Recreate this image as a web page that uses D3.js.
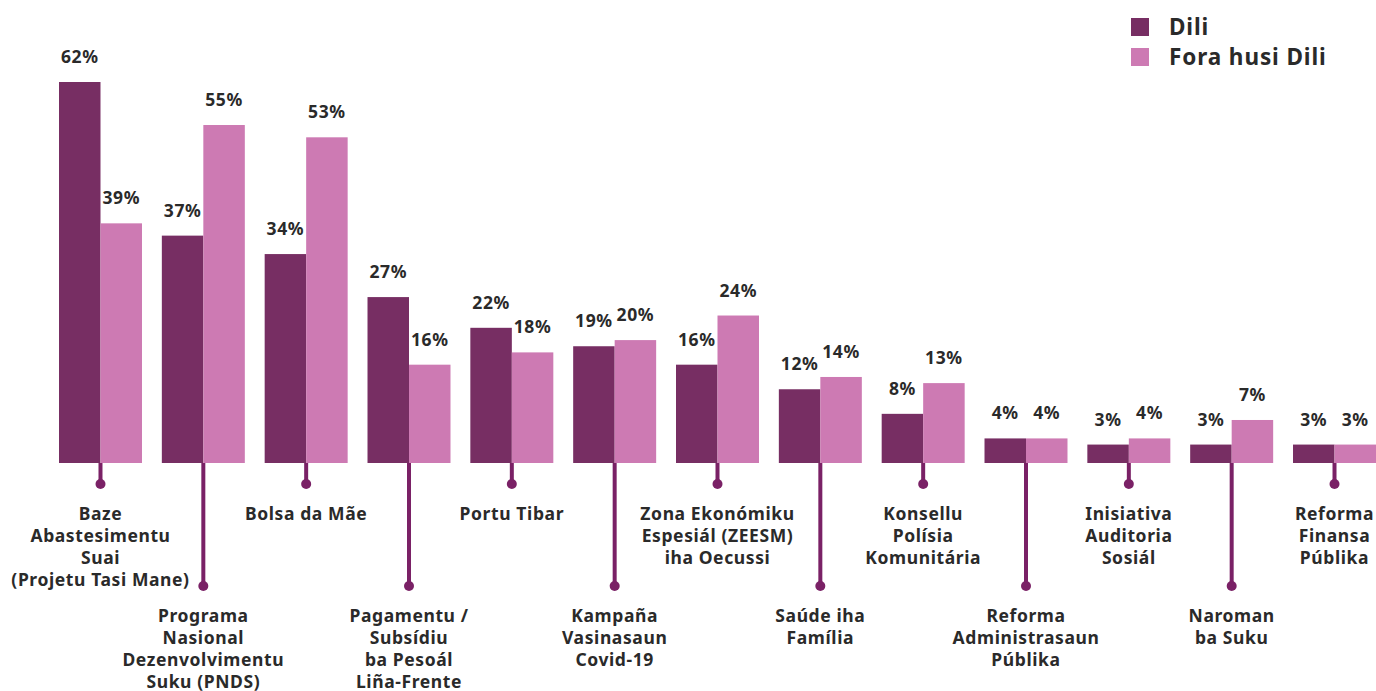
<!DOCTYPE html>
<html lang="en">
<head>
<meta charset="utf-8">
<title>Dili vs Fora husi Dili</title>
<script src="https://d3js.org/d3.v7.min.js"></script>
<style>
  body { margin: 0; background: #fff; }
  text { font-family: "Noto Sans", sans-serif; font-weight: 700; fill: #2a2a2a; }
</style>
</head>
<body>
<script>
var categories = [
  ["Baze", "Abastesimentu", "Suai", "(Projetu Tasi Mane)"],
  ["Programa", "Nasional", "Dezenvolvimentu", "Suku (PNDS)"],
  ["Bolsa da Mãe"],
  ["Pagamentu /", "Subsídiu", "ba Pesoál", "Liña-Frente"],
  ["Portu Tibar"],
  ["Kampaña", "Vasinasaun", "Covid-19"],
  ["Zona Ekonómiku", "Espesiál (ZEESM)", "iha Oecussi"],
  ["Saúde iha", "Família"],
  ["Konsellu", "Polísia", "Komunitária"],
  ["Reforma", "Administrasaun", "Públika"],
  ["Inisiativa", "Auditoria", "Sosiál"],
  ["Naroman", "ba Suku"],
  ["Reforma", "Finansa", "Públika"]
];
var dili = [62, 37, 34, 27, 22, 19, 16, 12, 8, 4, 3, 3, 3];
var foraDili = [39, 55, 53, 16, 18, 20, 24, 14, 13, 4, 4, 7, 3];
var seriesNames = ["Dili", "Fora husi Dili"];
var colors = ["#772e63", "#cd7ab3"];

var w = 1376, h = 691;
var base = 463;

var svg = d3.select("body").append("svg")
  .attr("width", w)
  .attr("height", h);

var idx = d3.range(categories.length);

var x = d3.scaleBand()
  .domain(idx)
  .range([59, 1376])
  .paddingInner(0.193)
  .paddingOuter(0);

var xIn = d3.scaleBand()
  .domain([0, 1])
  .range([0, x.bandwidth()]);

var y = d3.scaleLinear()
  .domain([0, 62])
  .range([base, 82]);

var groups = svg.selectAll("g.grp")
  .data(idx)
  .enter()
  .append("g")
  .attr("class", "grp")
  .attr("transform", function(i) { return "translate(" + x(i) + ",0)"; });

// stems + dots under each group
groups.append("line")
  .attr("x1", x.bandwidth() / 2)
  .attr("x2", x.bandwidth() / 2)
  .attr("y1", base)
  .attr("y2", function(i) { return i % 2 ? 586 : 484; })
  .attr("stroke", "#7a2166")
  .attr("stroke-width", 4);

groups.append("circle")
  .attr("cx", x.bandwidth() / 2)
  .attr("cy", function(i) { return i % 2 ? 586 : 484; })
  .attr("r", 5)
  .attr("fill", "#7a2166");

var bars = groups.selectAll("g.bar")
  .data(function(i) { return [dili[i], foraDili[i]]; })
  .enter()
  .append("g")
  .attr("class", "bar");

bars.append("rect")
  .attr("x", function(d, j) { return xIn(j); })
  .attr("y", function(d) { return y(d); })
  .attr("width", xIn.bandwidth())
  .attr("height", function(d) { return base - y(d); })
  .attr("fill", function(d, j) { return colors[j]; });

bars.append("text")
  .attr("x", function(d, j) { return xIn(j) + xIn.bandwidth() / 2; })
  .attr("y", function(d) { return y(d) - 19; })
  .attr("text-anchor", "middle")
  .style("font-size", "17.5px")
  .style("letter-spacing", "0.6px")
  .text(function(d) { return d + "%"; });

// category labels
groups.append("text")
  .attr("text-anchor", "middle")
  .style("font-size", "17.5px")
  .style("letter-spacing", "0.6px")
  .each(function(i) {
    var t = d3.select(this);
    var y0 = i % 2 ? 622 : 520;
    categories[i].forEach(function(s, k) {
      t.append("tspan")
        .attr("x", x.bandwidth() / 2)
        .attr("y", y0 + k * 22)
        .text(s);
    });
  });

// legend
var legend = svg.selectAll("g.legend")
  .data(seriesNames)
  .enter()
  .append("g")
  .attr("class", "legend")
  .attr("transform", function(d, j) { return "translate(1131," + (18 + j * 30) + ")"; });

legend.append("rect")
  .attr("width", 18)
  .attr("height", 18)
  .attr("fill", function(d, j) { return colors[j]; });

legend.append("text")
  .attr("x", 38)
  .attr("y", 17)
  .style("font-size", "22.5px")
  .style("letter-spacing", "0.9px")
  .text(function(d) { return d; });
</script>
</body>
</html>
